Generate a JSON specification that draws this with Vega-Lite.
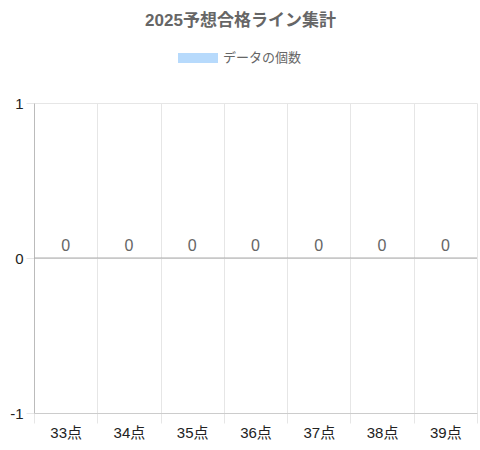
{
  "$schema": "https://vega.github.io/schema/vega-lite/v6.json",
  "width": 443,
  "height": 310,
  "autosize": {"type": "none"},
  "padding": {"left": 34, "top": 103, "right": 3, "bottom": 37},
  "config": {
    "font": "'Liberation Sans', 'Noto Sans CJK JP', sans-serif",
    "view": {"stroke": null}
  },
  "title": {
    "text": "2025予想合格ライン集計",
    "fontSize": 17,
    "fontWeight": "bold",
    "color": "#666666",
    "offset": 8,
    "dx": -15
  },
  "data": {
    "values": [
      {"label": "33点", "count": 0, "series": "データの個数"},
      {"label": "34点", "count": 0, "series": "データの個数"},
      {"label": "35点", "count": 0, "series": "データの個数"},
      {"label": "36点", "count": 0, "series": "データの個数"},
      {"label": "37点", "count": 0, "series": "データの個数"},
      {"label": "38点", "count": 0, "series": "データの個数"},
      {"label": "39点", "count": 0, "series": "データの個数"}
    ]
  },
  "layer": [
    {
      "mark": {"type": "bar"},
      "encoding": {
        "x": {
          "field": "label",
          "type": "nominal",
          "sort": null,
          "title": null,
          "scale": {"paddingInner": 0, "paddingOuter": 0},
          "axis": {
            "labelAngle": 0,
            "tickBand": "extent",
            "grid": true,
            "gridColor": "#e6e6e6",
            "tickColor": "#e6e6e6",
            "tickSize": 10,
            "domainColor": "#cccccc",
            "labelFontSize": 15,
            "labelColor": "#222222",
            "labelPadding": 2
          }
        },
        "y": {
          "field": "count",
          "type": "quantitative",
          "title": null,
          "scale": {"domain": [-1, 1], "nice": false},
          "axis": {
            "values": [-1, 0, 1],
            "labelExpr": "datum.value + ''",
            "grid": true,
            "gridColor": "#e6e6e6",
            "tickColor": "#e6e6e6",
            "tickSize": 8,
            "domainColor": "#bbbbbb",
            "labelFontSize": 15,
            "labelColor": "#222222",
            "labelPadding": 3
          }
        },
        "color": {
          "field": "series",
          "type": "nominal",
          "scale": {"range": ["#b7dafc"]},
          "legend": {
            "title": null,
            "orient": "none",
            "legendX": 144,
            "legendY": -65,
            "padding": 0,
            "symbolType": "M-1,-0.25H1V0.25H-1Z",
            "symbolSize": 1600,
            "symbolStrokeWidth": 0,
            "symbolOpacity": 1,
            "labelFontSize": 13,
            "labelColor": "#666666",
            "labelOffset": 5
          }
        }
      }
    },
    {
      "data": {"values": [{"zero": 0}]},
      "mark": {"type": "rule", "color": "#aaaaaa", "strokeWidth": 1},
      "encoding": {"y": {"field": "zero", "type": "quantitative"}}
    },
    {
      "mark": {"type": "text", "fontSize": 16, "fill": "#666666", "baseline": "alphabetic", "dy": -7},
      "encoding": {
        "x": {"field": "label", "type": "nominal", "sort": null},
        "y": {"field": "count", "type": "quantitative"},
        "text": {"field": "count", "type": "quantitative"}
      }
    }
  ]
}
